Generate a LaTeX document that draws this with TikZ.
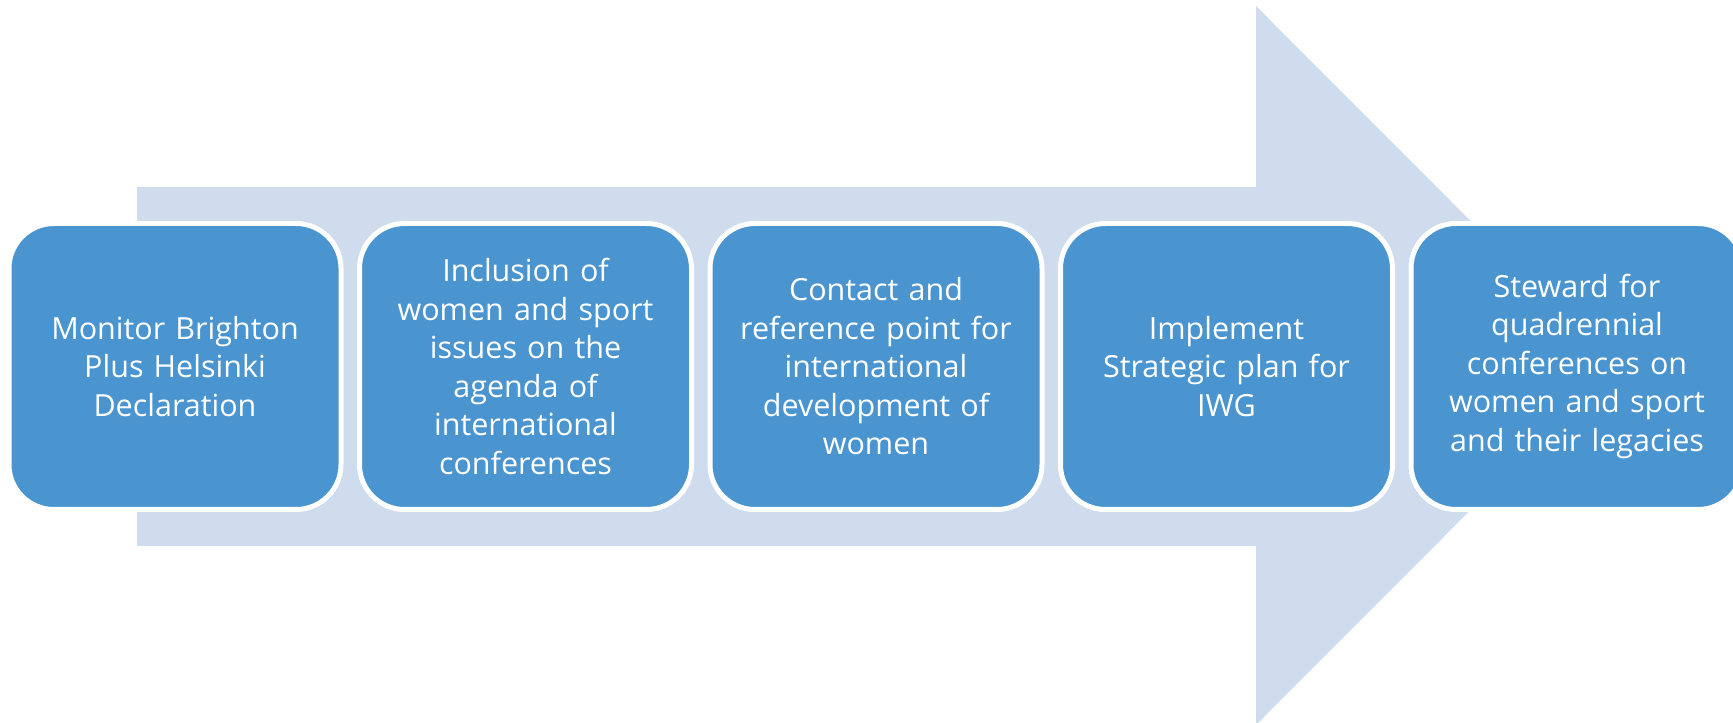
\documentclass[tikz,border=0pt]{standalone}
\usepackage{fontspec}
\setmainfont{Open Sans}
\usepackage{tikz}
\usetikzlibrary{positioning}
\definecolor{boxblue}{RGB}{74,148,207}
\definecolor{arrowblue}{RGB}{207,220,237}
\tikzset{
  stepbox/.style={draw=white, line width=5pt, fill=boxblue, rounded corners=45pt,
    minimum width=332pt, minimum height=286pt, text width=325pt, align=center,
    text=white, font=\fontsize{30.5}{38.5}\selectfont, inner sep=0pt}
}

\begin{document}
\begin{tikzpicture}[x=1pt, y=1pt]
				\useasboundingbox (0, 0) rectangle (1733, 723);
				\clip (0, 0) rectangle (1733, 723);
				% big arrow behind the steps
				\fill[arrowblue] (137, 177) -- (137, 536) -- (1256, 536) -- (1256, 717) -- (1615, 357.5) -- (1256, -2) -- (1256, 177) -- cycle;
				\node[stepbox] (monitor) at (175, 356.5) {Monitor Brighton\\Plus Helsinki\\Declaration};
				\node[stepbox, right=13.5pt of monitor] (inclusion) {Inclusion of\\women and sport\\issues on the\\agenda of\\international\\conferences};
				\node[stepbox, right=13.5pt of inclusion] (contact) {Contact and\\reference point for\\international\\development of\\women};
				\node[stepbox, right=13.5pt of contact] (implement) {Implement\\Strategic plan for\\IWG};
				\node[stepbox, right=13.5pt of implement] (steward) {Steward for\\quadrennial\\conferences on\\women and sport\\and their legacies};
			\end{tikzpicture}
\end{document}
